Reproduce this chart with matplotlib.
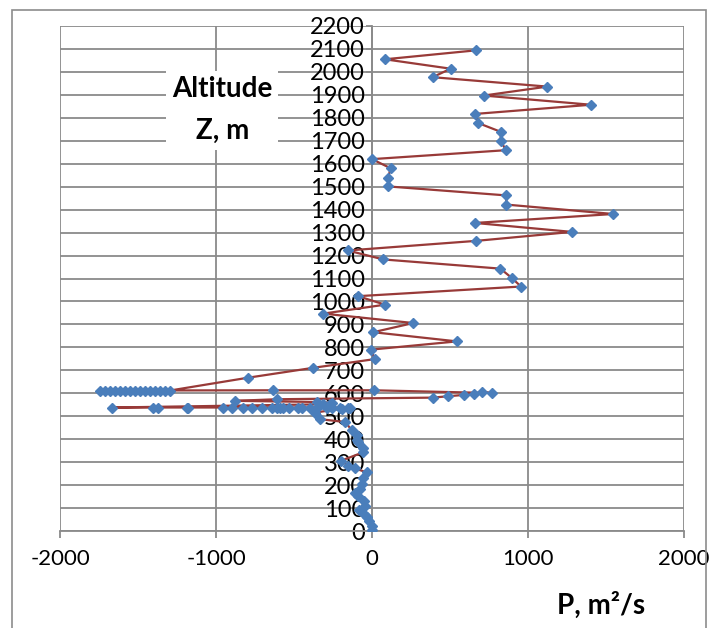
import matplotlib
matplotlib.use("Agg")
import matplotlib.pyplot as plt
from matplotlib.patches import Rectangle

# altitude profile, read top to bottom in series order
z = [2094, 2055, 2014, 1977, 1936, 1897, 1857, 1817, 1777, 1739, 1699, 1659,
     1620, 1580, 1540, 1501, 1462, 1422, 1381, 1342, 1303, 1264, 1222, 1183,
     1143, 1103, 1065, 1023, 986, 947, 906, 866, 826, 790, 749, 711, 668,
     612, 612, 612, 612, 612, 612, 612, 612, 612, 612, 612, 612, 612, 612, 612,
     613, 613, 601, 606, 597, 593, 587, 581, 574, 567, 562, 559, 552, 552,
     538, 538, 538, 538, 538, 538, 538, 538, 538, 538, 538, 538, 538, 538,
     538, 538, 538, 538, 538, 538, 538, 538, 530, 538, 538, 516, 487,
     475, 440, 420, 397, 386, 360, 342, 306, 284, 273, 255, 229, 204, 183,
     165, 151, 132, 107, 93, 71, 59, 45, 20, 5]
p = [667, 83, 504, 389, 1124, 716, 1404, 662, 682, 825, 825, 859,
     0, 120, 103, 105, 861, 861, 1547, 660, 1282, 669, -156, 73,
     823, 895, 955, -90, 83, -312, 265, 8, 545, -8, 19, -376, -793,
     -1295, -1327, -1359, -1391, -1423, -1455, -1487, -1519, -1551, -1583,
     -1615, -1647, -1679, -1711, -1744,
     -633, 13, 769, 707, 656, 590, 487, 389, -611, -878, -350, -258, -269, -312,
     -1668, -1401, -1369, -1188, -1177, -957, -899, -824, -771, -707, -643,
     -611, -590, -568, -530, -472, -451, -397, -355, -291, -259, -205, -194,
     -152, -141, -365, -333,
     -173, -130, -98, -98, -88, -60, -60, -199, -152, -109, -34, -60, -66, -77,
     -107, -88, -51, -45, -81, -45, -34, -17, -2, 0]

x_ticks = [-2000, -1000, 0, 1000, 2000]
y_ticks = list(range(0, 2201, 100))

plt.rcParams['font.family'] = ['Lato', 'DejaVu Sans']
plt.rcParams['axes.unicode_minus'] = False

fig = plt.figure(figsize=(7.14, 6.28), dpi=100)
# outer chart frame
fig.patches.append(Rectangle((12 / 714, -0.05), 694 / 714, 1.05 - 10 / 628,
                             transform=fig.transFigure, fill=False,
                             edgecolor='#8c8c8c', lw=1.2))

ax = fig.add_axes([60 / 714, 97 / 628, 624 / 714, 505 / 628])
ax.set_xlim(-2000, 2000)
ax.set_ylim(0, 2200)
ax.set_xticks(x_ticks)
ax.set_yticks(y_ticks)
ax.grid(True, color='#8a8a8a', lw=1.3)
ax.set_axisbelow(True)

for s in ['top', 'right']:
    ax.spines[s].set_visible(False)
ax.spines['left'].set_position(('data', 0))
ax.spines['left'].set_color('#8a8a8a')
ax.spines['bottom'].set_color('#8a8a8a')
ax.spines['left'].set_linewidth(1.3)
ax.spines['bottom'].set_linewidth(1.3)

ax.tick_params(axis='x', length=5, width=1.3, color='#8a8a8a', pad=8, labelsize=16)
ax.tick_params(axis='y', length=4, width=1.3, color='#8a8a8a', pad=1, labelsize=17)

ax.plot(p, z, color='#983a38', lw=1.6, marker='D', markersize=5.5,
        markerfacecolor='#4a7ebb', markeredgecolor='#4a7ebb', zorder=3)

ax.text(-960, 1833, 'Altitude\nZ, m', ha='center', va='center',
        fontsize=20, fontweight='bold', linespacing=1.75,
        bbox=dict(facecolor='white', edgecolor='none', boxstyle='square,pad=0.2'),
        zorder=4)

fig.text(601 / 714, 1 - 605 / 628, 'P, m²/s', ha='center', va='center',
         fontsize=20, fontweight='bold')

fig.savefig('out.png', dpi=100)
